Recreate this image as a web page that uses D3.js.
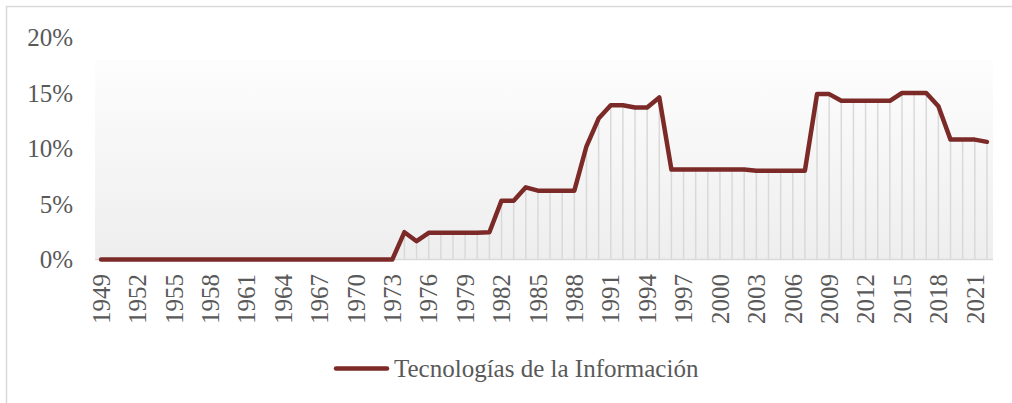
<!DOCTYPE html>
<html>
<head>
<meta charset="utf-8">
<script src="https://cdn.jsdelivr.net/npm/d3@7"></script>
<style>
    body { margin: 0; background: #fff; }
    svg { display: block; }
    text { font-family: "Liberation Serif", "DejaVu Serif", serif; fill: #595959; }
</style>
</head>
<body>
<div id="chart"></div>
<script>
    // years 1949..2022
    const years = d3.range(1949, 2023);
    const values = [
        0, 0, 0, 0, 0, 0, 0, 0, 0, 0,            // 1949-1958
        0, 0, 0, 0, 0, 0, 0, 0, 0, 0,            // 1959-1968
        0, 0, 0, 0, 0,                           // 1969-1973
        2.46, 1.65, 2.4, 2.4, 2.4, 2.4, 2.4, 2.45, // 1974-1981
        5.3, 5.3, 6.5, 6.2, 6.2, 6.2, 6.2,       // 1982-1988
        10.2, 12.7, 13.9, 13.9, 13.7, 13.7, 14.6, // 1989-1995
        8.1, 8.1, 8.1, 8.1, 8.1, 8.1, 8.1,       // 1996-2002
        8.0, 8.0, 8.0, 8.0, 8.0,                 // 2003-2007
        14.9, 14.9, 14.3, 14.3, 14.3, 14.3, 14.3, // 2008-2014
        15.0, 15.0, 15.0, 13.8, 10.8, 10.8, 10.8, 10.6 // 2015-2022
    ];
    const yTicks = [0, 5, 10, 15, 20];
    const xLabels = years.filter(y => (y - 1949) % 3 === 0);
    const seriesName = "Tecnologías de la Información";

    const width = 1012, height = 403;
    const lineColor = "#7b2a28";

    const svg = d3.select("#chart").append("svg")
        .attr("width", width)
        .attr("height", height);

    // chart border
    svg.append("rect")
        .attr("x", 6.5).attr("y", 6.5)
        .attr("width", width + 20).attr("height", height + 20)
        .attr("fill", "#fff")
        .attr("stroke", "#d9d9d9")
        .attr("stroke-width", 1.5);

    const x = d3.scaleBand().domain(years).range([95, 993]).padding(0);
    const cx = d => x(d) + x.bandwidth() / 2;
    const y = d3.scaleLinear().domain([0, 20]).range([259.5, 37.5]);

    const defs = svg.append("defs");
    const grad = defs.append("linearGradient")
        .attr("id", "bg").attr("x1", 0).attr("y1", 0).attr("x2", 0).attr("y2", 1);
    grad.append("stop").attr("offset", "0%").attr("stop-color", "#fdfdfd");
    grad.append("stop").attr("offset", "100%").attr("stop-color", "#eeeeee");

    // plot area fill (starts a bit below the 20% line, as in the original)
    svg.append("rect")
        .attr("x", 95).attr("y", 60)
        .attr("width", 993 - 95).attr("height", y(0) - 60)
        .attr("fill", "url(#bg)");

    // baseline
    svg.append("line")
        .attr("x1", 95).attr("x2", 993)
        .attr("y1", y(0)).attr("y2", y(0))
        .attr("stroke", "#d9d9d9").attr("stroke-width", 1.5);

    const data = years.map((yr, i) => ({ year: yr, value: values[i] }));

    // drop lines
    svg.append("g").selectAll("line")
        .data(data.filter(d => d.value > 0))
        .enter().append("line")
        .attr("x1", d => cx(d.year)).attr("x2", d => cx(d.year))
        .attr("y1", d => y(d.value)).attr("y2", y(0))
        .attr("stroke", "#d9d9d9").attr("stroke-width", 1.5);

    const line = d3.line()
        .x(d => cx(d.year))
        .y(d => y(d.value));

    svg.append("path")
        .datum(data)
        .attr("fill", "none")
        .attr("stroke", lineColor)
        .attr("stroke-width", 4.5)
        .attr("stroke-linejoin", "round")
        .attr("stroke-linecap", "round")
        .attr("d", line);

    // y axis labels
    svg.append("g").selectAll("text")
        .data(yTicks)
        .enter().append("text")
        .attr("x", 73)
        .attr("y", d => y(d))
        .attr("dy", "0.35em")
        .attr("text-anchor", "end")
        .style("font-size", "25px")
        .text(d => d + "%");

    // x axis labels, rotated
    svg.append("g").selectAll("text")
        .data(xLabels)
        .enter().append("text")
        .attr("transform", d => `translate(${cx(d)},274) rotate(-90)`)
        .attr("dy", "0.35em")
        .attr("text-anchor", "end")
        .style("font-size", "25px")
        .text(d => d);

    // legend
    svg.append("line")
        .attr("x1", 336).attr("x2", 387)
        .attr("y1", 368.5).attr("y2", 368.5)
        .attr("stroke", lineColor).attr("stroke-width", 4.5)
        .attr("stroke-linecap", "round");
    svg.append("text")
        .attr("x", 394).attr("y", 368)
        .attr("dy", "0.35em")
        .style("font-size", "25px")
        .text(seriesName);
</script>
</body>
</html>
